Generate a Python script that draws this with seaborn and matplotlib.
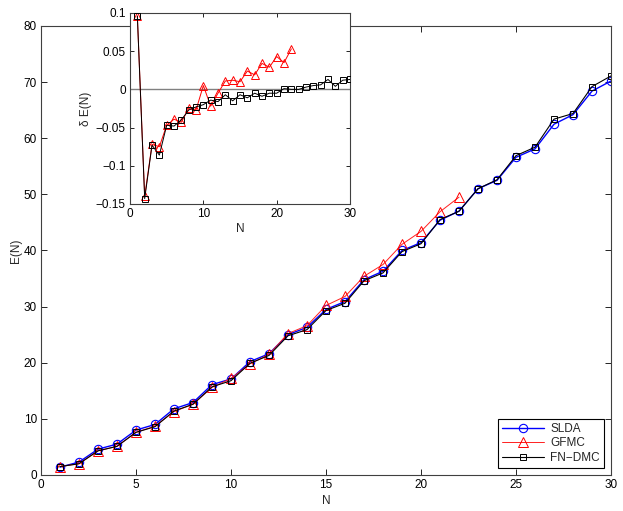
import numpy as np
import seaborn as sns
import matplotlib
matplotlib.use("Agg")
import matplotlib.pyplot as plt

# particle numbers
n_all = list(range(1, 31))
n_gfmc = list(range(1, 23))

# energies
e_slda = [1.4, 2.3, 4.6, 5.5, 8.0, 9.0, 11.8, 12.9, 16.1, 17.1,
          20.2, 21.6, 25.0, 26.3, 29.5, 30.9, 34.8, 36.3, 40.0, 41.4,
          45.4, 47.0, 51.0, 52.5, 56.6, 58.1, 62.5, 64.2, 68.4, 70.2]
e_gfmc = [1.5, 2.0, 4.3, 5.1, 7.6, 8.7, 11.3, 12.6, 15.6, 17.2,
          19.8, 21.5, 25.2, 26.6, 30.2, 31.8, 35.4, 37.5, 41.1, 43.4,
          46.9, 49.5]
e_fndmc = [1.5, 2.0, 4.3, 5.1, 7.6, 8.6, 11.4, 12.6, 15.7, 16.8,
           19.9, 21.3, 24.8, 25.9, 29.3, 30.6, 34.6, 36.0, 39.8, 41.2,
           45.5, 47.0, 51.0, 52.6, 56.9, 58.4, 63.4, 64.4, 69.2, 71.1]

# relative differences
de_gfmc = [0.096, -0.140, -0.072, -0.075, -0.047, -0.039, -0.043, -0.025, -0.027, 0.005,
           -0.022, -0.005, 0.011, 0.012, 0.010, 0.024, 0.019, 0.034, 0.029, 0.043,
           0.035, 0.053]
de_fndmc = [0.096, -0.143, -0.073, -0.086, -0.047, -0.048, -0.040, -0.027, -0.023, -0.020,
            -0.014, -0.016, -0.007, -0.015, -0.007, -0.011, -0.005, -0.009, -0.005, -0.005,
            0.001, 0.000, 0.000, 0.003, 0.005, 0.006, 0.013, 0.004, 0.012, 0.013]

sns.set_style("ticks")
plt.rcParams['font.family'] = ['Liberation Sans', 'DejaVu Sans']
plt.rcParams['font.size'] = 8.5
plt.rcParams['xtick.direction'] = 'in'
plt.rcParams['ytick.direction'] = 'in'

spine_col = '#404040'

fig = plt.figure(figsize=(6.23, 5.11), dpi=100)
ax = fig.add_axes([0.0658, 0.0705, 0.915, 0.8787])

sns.lineplot(x=n_all, y=e_slda, ax=ax, color='blue', lw=1.0, marker='o', ms=6,
             markerfacecolor='none', markeredgecolor='blue', markeredgewidth=0.8, label='SLDA')
sns.lineplot(x=n_gfmc, y=e_gfmc, ax=ax, color='#ff2020', lw=0.7, marker='^', ms=7,
             markerfacecolor='none', markeredgecolor='red', markeredgewidth=0.7, label='GFMC')
sns.lineplot(x=n_all, y=e_fndmc, ax=ax, color='black', lw=0.8, marker='s', ms=5,
             markerfacecolor='none', markeredgecolor='black', markeredgewidth=0.7, label='FN\u2212DMC')

ax.set_xlim(0, 30)
ax.set_ylim(0, 80)
ax.set_xticks(range(0, 31, 5))
ax.set_yticks(range(0, 81, 10))
ax.set_xlabel('N', labelpad=3)
ax.set_ylabel('E(N)', labelpad=1)
ax.tick_params(top=True, right=True, length=4, width=0.6, colors='black', pad=3)
for s in ax.spines.values():
    s.set_color(spine_col)
    s.set_linewidth(0.8)
leg = ax.legend(loc='lower right', frameon=True, fancybox=False, edgecolor='black',
                framealpha=1, handlelength=3.6, borderaxespad=0.6, borderpad=0.35,
                labelspacing=0.2, handletextpad=0.5)
leg.get_frame().set_linewidth(0.8)

# inset
ins = fig.add_axes([0.2087, 0.6008, 0.3531, 0.3738])
ins.axhline(0, color='gray', lw=1.0, zorder=1)
sns.lineplot(x=n_gfmc, y=de_gfmc, ax=ins, color='red', lw=0.7, marker='^', ms=6,
             markerfacecolor='none', markeredgecolor='red', markeredgewidth=0.7, zorder=2)
sns.lineplot(x=n_all, y=de_fndmc, ax=ins, color='black', lw=0.7, marker='s', ms=4.5,
             markerfacecolor='none', markeredgecolor='black', markeredgewidth=0.7, zorder=3)
ins.set_xlim(0, 30)
ins.set_ylim(-0.15, 0.1)
ins.set_xticks([0, 10, 20, 30])
ins.set_yticks([-0.15, -0.1, -0.05, 0, 0.05, 0.1])
ins.set_yticklabels(['\u22120.15', '\u22120.1', '\u22120.05', '0', '0.05', '0.1'])
ins.set_xlabel('N', labelpad=2)
ins.set_ylabel('\u03b4 E(N)', labelpad=3)
ins.tick_params(top=True, right=True, length=3, width=0.6, colors='black', pad=3)
for s in ins.spines.values():
    s.set_color(spine_col)
    s.set_linewidth(0.8)

fig.savefig('out.png', dpi=100)
